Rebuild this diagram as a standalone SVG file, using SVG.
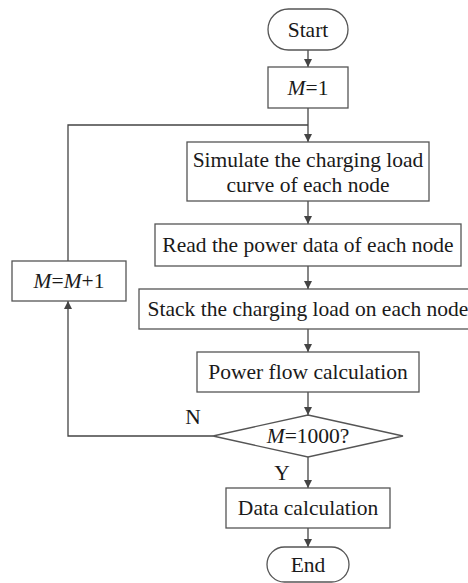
<svg xmlns="http://www.w3.org/2000/svg" width="468" height="583" viewBox="0 0 468 583">
<style>
.box{fill:#fff;stroke:#555;stroke-width:1.3}
.ln{fill:none;stroke:#444;stroke-width:1.3}
text{font-family:'Liberation Serif','Times New Roman',serif;font-size:21.5px;fill:#1a1a1a;text-anchor:middle}
.i{font-style:italic}
</style>
<defs>
<marker id="ah" viewBox="0 0 10 10" refX="10" refY="5" markerWidth="8" markerHeight="8" markerUnits="userSpaceOnUse" orient="auto">
<path d="M0,0 L10,5 L0,10 z" fill="#444"/>
</marker>
</defs>
<rect width="468" height="583" fill="#fff"/>
<g id="connectors">
<line class="ln" x1="308" y1="50" x2="308" y2="67" marker-end="url(#ah)"/>
<line class="ln" x1="308" y1="108" x2="308" y2="142" marker-end="url(#ah)"/>
<line class="ln" x1="308" y1="201" x2="308" y2="224" marker-end="url(#ah)"/>
<line class="ln" x1="308" y1="266" x2="308" y2="289" marker-end="url(#ah)"/>
<line class="ln" x1="308" y1="329" x2="308" y2="352" marker-end="url(#ah)"/>
<line class="ln" x1="308" y1="392" x2="308" y2="415" marker-end="url(#ah)"/>
<line class="ln" x1="308" y1="457" x2="308" y2="488" marker-end="url(#ah)"/>
<line class="ln" x1="308" y1="528" x2="308" y2="547" marker-end="url(#ah)"/>
<polyline class="ln" points="213,436 68,436 68,301" marker-end="url(#ah)"/>
<polyline class="ln" points="68,261 68,125 308,125"/>
<text x="193" y="424">N</text>
<text x="282" y="480">Y</text>
</g>
<g id="start"><rect class="box" x="268" y="9" width="80" height="41" rx="20.5"/><text x="308" y="37">Start</text></g>
<g id="init"><rect class="box" x="268" y="67" width="80" height="41"/><text x="308" y="95"><tspan class="i">M</tspan>=1</text></g>
<g id="simulate"><rect class="box" x="187" y="142" width="242" height="59"/><text x="308" y="167">Simulate the charging load</text><text x="308" y="192">curve of each node</text></g>
<g id="read"><rect class="box" x="155" y="224" width="306" height="42"/><text x="308" y="252">Read the power data of each node</text></g>
<g id="stack"><rect class="box" x="139" y="289" width="338" height="40"/><text x="308" y="316">Stack the charging load on each node</text></g>
<g id="powerflow"><rect class="box" x="197" y="352" width="222" height="40"/><text x="308" y="379">Power flow calculation</text></g>
<g id="decision"><polygon class="box" points="308,415 403,436 308,457 213,436"/><text x="308" y="443"><tspan class="i">M</tspan>=1000?</text></g>
<g id="increment"><rect class="box" x="12" y="261" width="114" height="40"/><text x="69" y="288"><tspan class="i">M</tspan>=<tspan class="i">M</tspan>+1</text></g>
<g id="data"><rect class="box" x="226" y="488" width="164" height="40"/><text x="308" y="515">Data calculation</text></g>
<g id="end"><rect class="box" x="267" y="547" width="82" height="35" rx="17.5"/><text x="308" y="572">End</text></g>
</svg>
